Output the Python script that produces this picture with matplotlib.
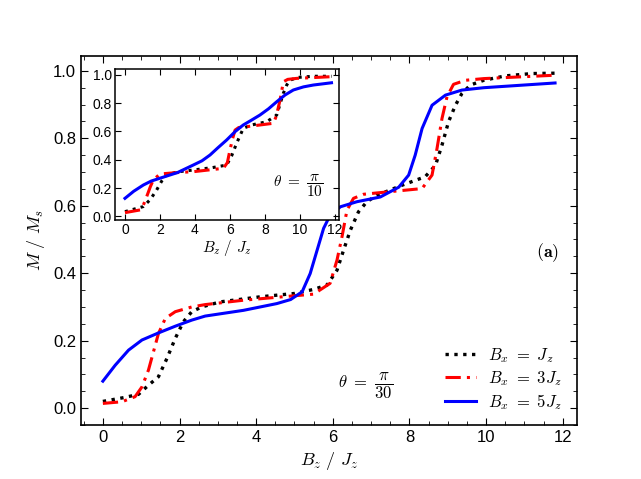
import matplotlib
matplotlib.use("Agg")
import matplotlib.pyplot as plt
from matplotlib.ticker import MultipleLocator

plt.rcParams['font.family'] = ['Liberation Sans', 'DejaVu Sans']
plt.rcParams['mathtext.fontset'] = 'cm'

# main panel, theta = pi/30
bx1_x = [0, 0.58, 0.93, 1.19, 1.45, 1.67, 1.89, 2.1, 2.32, 2.58, 3.06, 4.1, 5.0, 5.5, 5.85,
         6.11, 6.28, 6.46, 6.67, 6.89, 7.15, 7.81, 8.41, 8.68, 8.85, 9.02, 9.2, 9.37, 9.59,
         9.94, 10.5, 11.2, 11.8]
bx1_y = [0.02, 0.032, 0.041, 0.068, 0.093, 0.147, 0.207, 0.256, 0.286, 0.3, 0.315, 0.33, 0.34,
         0.352, 0.365, 0.409, 0.468, 0.528, 0.582, 0.612, 0.631, 0.661, 0.686, 0.72, 0.78, 0.849,
         0.898, 0.933, 0.958, 0.972, 0.985, 0.992, 0.993]

bx3_x = [0, 0.5, 0.84, 1.02, 1.19, 1.32, 1.45, 1.63, 1.89, 2.32, 2.67, 3.67, 4.98, 5.5, 5.93,
         6.11, 6.24, 6.37, 6.54, 6.8, 7.15, 8.33, 8.59, 8.72, 8.85, 8.98, 9.15, 9.46, 9.94, 11.8]
bx3_y = [0.014, 0.019, 0.034, 0.063, 0.113, 0.167, 0.221, 0.266, 0.286, 0.3, 0.307, 0.32, 0.333,
         0.338, 0.37, 0.439, 0.508, 0.587, 0.622, 0.634, 0.638, 0.651, 0.691, 0.77, 0.859, 0.923,
         0.96, 0.972, 0.977, 0.987]

bx5_x = [0, 0.32, 0.67, 1.02, 1.45, 1.89, 2.32, 2.67, 3.67, 4.54, 4.9, 5.2, 5.41, 5.59, 5.76,
         5.93, 6.2, 6.63, 7.24, 7.72, 7.98, 8.15, 8.33, 8.59, 8.94, 9.37, 9.94, 11.8]
bx5_y = [0.08, 0.127, 0.172, 0.202, 0.223, 0.243, 0.261, 0.273, 0.29, 0.31, 0.322, 0.345, 0.399,
         0.468, 0.533, 0.572, 0.597, 0.612, 0.626, 0.655, 0.691, 0.75, 0.829, 0.898, 0.928, 0.943,
         0.95, 0.964]

# inset, theta = pi/10
in1_x = [0, 1.05, 1.45, 1.81, 2.1, 2.38, 3.0, 3.9, 5.0, 5.81, 6.1, 6.38, 6.76, 7.2, 8.1, 8.67,
         8.85, 9.05, 9.25, 9.43, 9.9, 10.76, 11.8]
in1_y = [0.034, 0.07, 0.12, 0.187, 0.25, 0.293, 0.315, 0.328, 0.345, 0.363, 0.43, 0.517, 0.622,
         0.645, 0.669, 0.716, 0.79, 0.87, 0.93, 0.963, 0.982, 0.99, 0.99]

in3_x = [0, 0.86, 1.05, 1.24, 1.45, 1.62, 2.0, 3.0, 3.9, 5.62, 5.85, 6.0, 6.15, 6.29, 6.5, 6.95,
         8.48, 8.65, 8.86, 9.05, 9.3, 9.81, 11.8]
in3_y = [0.027, 0.046, 0.08, 0.14, 0.21, 0.258, 0.3, 0.31, 0.316, 0.34, 0.38, 0.47, 0.55, 0.61,
         0.628, 0.634, 0.658, 0.71, 0.822, 0.951, 0.968, 0.975, 0.987]

in5_x = [0, 0.5, 1.05, 1.5, 2.0, 3.0, 3.9, 4.4, 4.86, 5.3, 5.81, 6.3, 6.76, 7.2, 7.71, 8.2, 8.67,
         9.15, 9.62, 10.2, 10.76, 11.8]
in5_y = [0.128, 0.178, 0.222, 0.25, 0.27, 0.31, 0.363, 0.393, 0.434, 0.484, 0.54, 0.6, 0.646,
         0.678, 0.716, 0.76, 0.81, 0.858, 0.893, 0.915, 0.928, 0.944]

labels = [r'$B_x\ =\ J_z$', r'$B_x\ =\ 3J_z$', r'$B_x\ =\ 5J_z$']
dashdot = (0, (5, 2, 1, 2))

fig = plt.figure(figsize=(6.41, 4.79), dpi=100)
ax = fig.add_axes([0.1264, 0.1127, 0.7736, 0.7704])

ax.plot(bx1_x, bx1_y, color='black', linestyle=':', linewidth=2.4, label=labels[0])
ax.plot(bx3_x, bx3_y, color='red', linestyle=dashdot, linewidth=2.2, label=labels[1])
ax.plot(bx5_x, bx5_y, color='blue', linestyle='-', linewidth=2.2, label=labels[2])

ax.set_xlim(-0.57, 12.37)
ax.set_ylim(-0.05, 1.044)
ax.xaxis.set_major_locator(MultipleLocator(2))
ax.xaxis.set_minor_locator(MultipleLocator(0.5))
ax.yaxis.set_major_locator(MultipleLocator(0.2))
ax.yaxis.set_minor_locator(MultipleLocator(0.05))
ax.tick_params(which='both', direction='in', top=True, right=True, labelsize=12)
ax.tick_params(which='major', length=5)
ax.tick_params(which='minor', length=3)
for s in ax.spines.values():
    s.set_linewidth(1.2)
ax.set_xlabel(r'$B_z\ /\ J_z$', fontsize=13)
ax.set_ylabel(r'$M\ /\ M_s$', fontsize=13)

ax.text(6.85, 0.065, r'$\theta\ =\ \dfrac{\pi}{30}$', fontsize=12, ha='center', va='center')
ax.text(11.6, 0.46, r'$\mathbf{(a)}$', fontsize=13, ha='center', va='center')
ax.legend(loc='lower right', frameon=False, fontsize=12, handlelength=1.9, handletextpad=0.7,
          labelspacing=0.25, bbox_to_anchor=(1.0, -0.005))

ins = fig.add_axes([0.1794, 0.5407, 0.3495, 0.3146])
ins.plot(in1_x, in1_y, color='black', linestyle=':', linewidth=2.2)
ins.plot(in3_x, in3_y, color='red', linestyle=dashdot, linewidth=2.2)
ins.plot(in5_x, in5_y, color='blue', linestyle='-', linewidth=2.2)
ins.set_xlim(-0.57, 12.23)
ins.set_ylim(-0.025, 1.039)
ins.xaxis.set_major_locator(MultipleLocator(2))
ins.yaxis.set_major_locator(MultipleLocator(0.2))
ins.tick_params(direction='in', top=True, right=True, labelsize=10, length=4, pad=2)
for s in ins.spines.values():
    s.set_linewidth(1.1)
ins.set_xlabel(r'$B_z\ /\ J_z$', fontsize=11, labelpad=1)
ins.text(9.9, 0.215, r'$\theta\ =\ \dfrac{\pi}{10}$', fontsize=11, ha='center', va='center')

fig.savefig('out.png', dpi=100)
